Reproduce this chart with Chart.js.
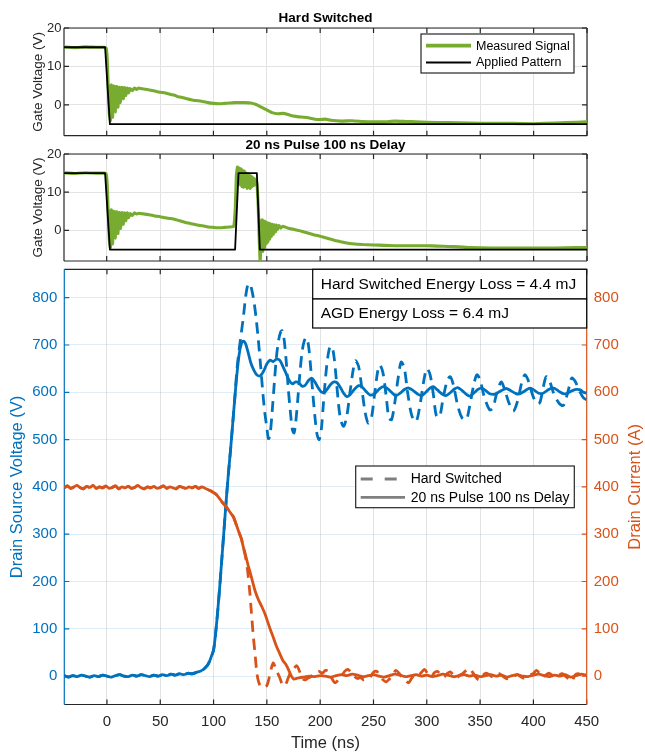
<!DOCTYPE html>
<html>
<head>
<meta charset="utf-8">
<script src="https://cdn.jsdelivr.net/npm/chart.js@4.4.0/dist/chart.umd.min.js"></script>
<style>
  html, body { margin: 0; padding: 0; background: #fff; }
  #fig { position: relative; width: 645px; height: 753px; }
  #fig canvas { position: absolute; left: 0; top: 0; }
</style>
</head>
<body>
<div id="fig">
  <canvas id="gateHard" width="645" height="753"></canvas>
  <canvas id="gateAgd" width="645" height="753"></canvas>
  <canvas id="switching" width="645" height="753"></canvas>
</div>
<script>
// time axis (ns) and tick values
const timeTicks = [0, 50, 100, 150, 200, 250, 300, 350, 400, 450];
const gateTicks = [0, 10, 20];
const vdsTicks = [0, 100, 200, 300, 400, 500, 600, 700, 800];
const idTicks = [0, 100, 200, 300, 400, 500, 600, 700, 800];

// gate drive, hard switched: [time ns, volts]
const hsGateMeasured = [[-40,15.1],[-30,14.9],[-20,15.1],[-10,15],[-2,15],[-0.5,14.8],[0.5,12],[1.5,4],[2.5,-2.5],[3.5,-4],
  [4.3,5.2],[5.5,-3.2],[6.8,4.9],[8,-1.8],[9.3,4.8],[10.5,-0.6],[11.8,4.6],[13,0.6],[14.3,4.6],[15.5,1.6],[16.8,4.5],[18,2.4],
  [19.3,4.4],[20.5,3.1],[22,4.3],[24,3.7],[26,4.4],[28,4.0],[30,4.4],[33,4.2],[36,4.1],[40,3.9],[45,3.6],[50,3.3],[55,3.1],
  [60,2.7],[63,2.6],[66,2.2],[70,2.0],[75,1.6],[80,1.3],[85,1.1],[90,0.9],[95,0.6],[100,0.4],[105,0.3],[110,0.4],[115,0.5],
  [120,0.6],[125,0.6],[130,0.6],[135,0.5],[140,0.1],[145,-0.6],[150,-1.3],[155,-2.0],[160,-2.3],[165,-2.2],[170,-2.5],
  [175,-2.9],[180,-3.1],[185,-3.2],[190,-3.4],[195,-3.7],[200,-3.8],[205,-3.7],[210,-4.0],[220,-4.2],[230,-4.1],[240,-4.3],
  [250,-4.4],[260,-4.4],[270,-4.2],[280,-4.3],[290,-4.4],[300,-4.5],[320,-4.6],[340,-4.7],[360,-4.8],[380,-4.8],[400,-4.9],
  [420,-4.7],[440,-4.5],[450,-4.4]];
const hsGatePattern = [[-40,15],[-1.5,15],[3,-5],[450,-5]];

// gate drive, 20 ns pulse after 100 ns delay
const agdGateMeasured = [[-40,15.1],[-30,14.9],[-20,15.1],[-10,15],[-2,15],[-0.5,14.8],[0.5,12],[1.5,4],[2.5,-2.5],[3.5,-4.5],
  [4.3,5.4],[5.5,-3.5],[6.8,5.0],[8,-2],[9.3,4.9],[10.5,-0.8],[11.8,4.7],[13,0.5],[14.3,4.7],[15.5,1.6],[16.8,4.6],[18,2.5],
  [19.3,4.6],[20.5,3.3],[22,4.4],[24,3.9],[26,4.6],[28,4.3],[30,4.5],[35,4.3],[40,4.1],[45,3.8],[50,3.6],[55,3.3],[60,3.1],
  [65,2.8],[70,2.4],[75,2.0],[80,1.7],[85,1.4],[90,1.2],[95,0.9],[100,0.8],[105,0.7],[110,0.8],[115,0.9],[119,1.0],
  [120.5,6],[121.5,14.5],[122.5,16.6],[123.3,12.5],[124.1,16.3],[124.9,12],[125.7,16.1],[126.5,11.5],[127.3,15.8],[128.1,11.3],
  [128.9,15.5],[129.7,11.5],[130.5,15],[131.3,11],[132.1,14.8],[132.9,11.2],[133.7,14.5],[134.5,11],[135.3,14.2],[136.1,11.5],
  [136.9,13.8],[137.7,11.8],[138.5,13.5],[139.3,12],[140.2,13],[141,11.5],[142,6],[143,-3],[143.8,-8.5],[144.6,-1],[145.4,2.8],
  [146.2,-5.5],[147,2.5],[147.8,-4.5],[148.6,2.3],[149.4,-3.5],[150.2,2.0],[151,-3],[151.8,1.9],[152.6,-2.3],[153.4,1.7],
  [154.2,-1.6],[155,1.6],[156,-1],[157,1.5],[158,-0.4],[159,1.4],[160,0.2],[161.5,1.3],[163,0.6],[165,1.1],[167,0.9],
  [170,0.6],[175,0.3],[180,0.0],[185,-0.4],[190,-0.8],[195,-1.2],[200,-1.5],[205,-1.9],[210,-2.3],[215,-2.7],[220,-3.0],
  [225,-3.3],[230,-3.5],[240,-3.7],[250,-3.8],[260,-3.9],[270,-4.0],[280,-4.0],[290,-4.0],[300,-4.0],[310,-4.1],[320,-4.2],
  [330,-4.3],[340,-4.5],[360,-4.6],[380,-4.6],[400,-4.6],[420,-4.6],[440,-4.5],[450,-4.5]];
const agdGatePattern = [[-40,15],[-1.5,15],[3,-5],[120.3,-5],[123.5,15],[140.7,15],[143.5,-5],[450,-5]];

// drain-source voltage (V)
const vdsOff = [[-40,1],[-36,-2],[-32,1],[-28,-1],[-24,2],[-20,0],[-16,-2],[-12,1],[-8,-1],[-4,2],[0,0],[4,-2],[8,1],
  [12,3],[16,0],[20,-1],[24,2],[28,0],[32,3],[36,1],[40,-1],[44,2],[48,0],[52,3],[56,1],[60,4],[64,2],[68,5],[72,3],
  [76,6],[80,5],[84,8],[88,11],[91,15],[94,22],[96,30],[98,42],[100,55],[102,92],[104,140],[106,195],[108,255],[110,315],
  [112,375],[114,430],[116,480],[118,535],[120,590]];
const vdsAgdTail = [[122,640],[124,680],[126,702],[128,708],[130,703],[132,688],[135,662],[138,646],[141,636],[144,635],
  [147,645],[150,660],[153,668],[156,665],[159,670],[162,668],[165,655],[168,640],[171,625],[174,618],[177,622],[180,620],
  [183,613],[186,615],[189,625],[192,630],[195,622],[198,610],[201,601],[204,600],[207,608],[210,617],[213,622],[216,620],
  [219,610],[222,598],[225,591],[228,595],[232,606],[236,614],[239,612],[243,602],[247,594],[251,597],[255,606],[259,612],
  [263,608],[267,600],[271,593],[275,598],[279,606],[283,609],[287,604],[291,597],[295,593],[299,600],[303,609],[306,612],
  [310,605],[314,597],[318,593],[322,599],[326,607],[329,610],[333,604],[337,596],[340,592],[344,598],[348,606],[351,609],
  [355,604],[359,597],[364,596],[368,601],[372,606],[375,608],[379,603],[383,598],[386,596],[390,600],[394,606],[397,609],
  [401,604],[405,598],[409,598],[413,604],[417,609],[420,608],[424,602],[428,597],[432,598],[436,603],[440,606],[444,605],
  [447,600],[450,598]];
const vdsHardTail = [[122,650],[124,690],[126,725],[128,760],[130,800],[132,826],[134,830],[136,815],[138,790],[140,755],
  [142,710],[144,660],[146,605],[148,558],[150,525],[151.5,502],[153,510],[155,560],[157,620],[159,675],[161,710],[163,728],
  [164.5,730],[166,715],[168,670],[170,610],[172,560],[174,520],[175.5,514],[177,535],[179,585],[181,640],[183,685],[185,708],
  [187,716],[189,700],[191,655],[193,600],[195,550],[197,512],[199,500],[201,520],[203,575],[205,630],[207,672],[209,695],
  [211,697],[213,675],[215,630],[217,580],[219,545],[222,528],[225,550],[228,600],[231,648],[233,667],[236,655],[239,610],
  [242,560],[245,535],[248,545],[251,595],[254,645],[256,658],[259,640],[262,590],[264.5,545],[267,542],[270,578],[273,628],
  [276,664],[279,650],[282,600],[286,550],[290,538],[294,578],[297,622],[300,650],[303,638],[306,598],[309,550],[312,548],
  [315,583],[319,624],[322,633],[325,615],[329,572],[333,546],[337,542],[340,568],[344,615],[347,637],[350,626],[354,590],
  [359,563],[362,567],[365,593],[368,614],[370,622],[373,606],[377,578],[381,560],[385,580],[389,620],[392,637],[395,626],
  [399,596],[403,576],[406,578],[409,608],[412,633],[415,625],[419,598],[424,577],[428,572],[431,590],[434,615],[436,630],
  [439,624],[443,604],[447,588],[450,584]];

// drain current (A)
const idOn = [[-40,398],[-37,402],[-34,397],[-31,400],[-28,403],[-25,398],[-22,396],[-19,401],[-16,399],[-13,403],
  [-10,397],[-7,400],[-4,398],[-1,402],[2,397],[5,399],[8,402],[11,396],[14,400],[17,398],[20,401],[23,397],[26,399],
  [29,403],[32,398],[35,396],[38,400],[41,398],[44,401],[47,397],[50,399],[53,402],[56,397],[59,400],[62,398],[65,396],
  [68,401],[71,399],[74,397],[77,400],[80,398],[83,401],[86,397],[89,400],[92,397],[95,394],[98,391],[100,388],[103,383],
  [106,374],[109,365],[112,358],[115,348],[118.5,337],[121,322],[123.5,306],[126,291],[128,272]];
const idAgdTail = [[130,256],[132,238],[134,222],[136,205],[139,180],[142,162],[145,148],[148,133],[150,120],[153,100],
  [156,82],[159,63],[162,48],[165,33],[168,24],[171,10],[173,0],[175,-6],[178,-5],[181,-3],[185,-2],[190,0],[195,-1],
  [200,1],[205,0],[210,-2],[215,1],[220,3],[225,1],[230,4],[235,2],[240,-1],[245,1],[250,3],[255,0],[260,-2],[265,1],
  [270,4],[275,2],[280,-1],[285,1],[290,3],[295,0],[300,2],[305,-1],[310,1],[315,4],[320,2],[325,-1],[330,1],[335,3],
  [340,0],[345,2],[350,-1],[355,1],[360,3],[365,0],[370,2],[375,-2],[380,1],[385,3],[390,0],[395,-1],[400,2],[405,4],
  [410,1],[415,-1],[420,2],[425,0],[430,3],[435,-2],[440,1],[445,4],[450,2]];
const idHardTail = [[130,252],[132,222],[134,177],[135.5,135],[137,92],[139,45],[140.6,7],[142,-10],[144,-21],[147,-24],
  [150,-20],[152,-5],[154,15],[156,28],[158,18],[160,7],[162,-3],[164,-15],[166,-21],[168,-16],[170,-4],[172,6],[174,12],
  [176,18],[178,22],[180,14],[182,2],[184,-6],[186,-8],[188,-5],[190,-3],[193,2],[196,8],[199,10],[202,6],[205,12],[208,10],
  [211,-5],[214,-14],[217,-8],[220,0],[223,10],[226,14],[229,8],[232,0],[235,-5],[238,-3],[241,-8],[244,-4],[247,-2],
  [250,8],[253,10],[256,2],[259,-8],[262,-12],[265,-6],[268,2],[271,12],[274,6],[277,-3],[280,-9],[283,-14],[286,-4],
  [289,4],[292,2],[295,8],[298,14],[301,4],[304,-3],[307,7],[310,10],[313,3],[316,-2],[319,5],[322,9],[325,2],[328,-4],
  [331,2],[334,6],[337,12],[340,16],[343,8],[346,-2],[349,-8],[352,0],[355,6],[358,4],[361,-1],[364,2],[367,6],[370,2],
  [373,-3],[376,-6],[379,-3],[382,0],[385,3],[388,-1],[391,-4],[394,-2],[397,2],[400,6],[403,12],[406,5],[409,-2],
  [412,3],[415,6],[418,1],[421,-2],[424,2],[427,5],[430,0],[433,-6],[436,-11],[439,2],[442,5],[445,3],[448,8],[450,6]];

const energyNotes = ['Hard Switched Energy Loss = 4.4 mJ', 'AGD Energy Loss = 6.4 mJ'];

const FONT = '"Liberation Sans", Arial, Helvetica, sans-serif';
const AXIS = '#262626';
const BLUE = '#0072BD';
const ORANGE = '#D95319';
const GREEN = '#77AC30';
const GRID = '#e3e3e3';

Chart.defaults.font.family = FONT;
Chart.defaults.color = AXIS;
Chart.defaults.animation = false;

const xy = pairs => pairs.map(p => ({ x: p[0], y: p[1] }));
const fixTicks = list => scale => { scale.ticks = list.map(v => ({ value: v })); };

// axes box, inward tick marks, titles, legends and text boxes
const frame = {
  id: 'frame',
  beforeDatasetsDraw(chart, args, o) {
    const { ctx, chartArea: a, scales } = chart;
    const tl = 5;
    ctx.save();
    ctx.lineWidth = 1.2;
    ctx.strokeStyle = AXIS;
    ctx.beginPath();
    timeTicks.forEach(v => {
      const px = scales.x.getPixelForValue(v);
      ctx.moveTo(px, a.top); ctx.lineTo(px, a.top + tl);
      ctx.moveTo(px, a.bottom); ctx.lineTo(px, a.bottom - tl);
    });
    ctx.moveTo(a.left, a.top); ctx.lineTo(a.right, a.top);
    ctx.moveTo(a.left, a.bottom); ctx.lineTo(a.right, a.bottom);
    ctx.stroke();
    o.sides.forEach(side => {
      const s = scales[side.scale];
      const ex = side.edge === 'left' ? a.left : a.right;
      const dir = side.edge === 'left' ? 1 : -1;
      ctx.strokeStyle = side.color;
      ctx.beginPath();
      s.ticks.forEach(t => {
        const py = s.getPixelForValue(t.value);
        ctx.moveTo(ex, py); ctx.lineTo(ex + dir * tl, py);
      });
      ctx.moveTo(ex, a.top); ctx.lineTo(ex, a.bottom);
      ctx.stroke();
    });
    ctx.restore();
  },
  afterDraw(chart, args, o) {
    const { ctx, chartArea: a } = chart;
    ctx.save();
    if (o.title) {
      ctx.font = 'bold 13.5px ' + FONT;
      ctx.fillStyle = '#000';
      ctx.textAlign = 'center';
      ctx.textBaseline = 'middle';
      ctx.fillText(o.title, (a.left + a.right) / 2, o.titleY);
    }
    if (o.rightLabel) {
      ctx.translate(o.rightLabel.x, (a.top + a.bottom) / 2);
      ctx.rotate(-Math.PI / 2);
      ctx.font = '16.5px ' + FONT;
      ctx.fillStyle = o.rightLabel.color;
      ctx.textAlign = 'center';
      ctx.textBaseline = 'middle';
      ctx.fillText(o.rightLabel.text, 0, 0);
      ctx.setTransform(1, 0, 0, 1, 0, 0);
    }
    if (o.notes) {
      const n = o.notes;
      ctx.font = n.size + 'px ' + FONT;
      ctx.textAlign = 'left';
      ctx.textBaseline = 'middle';
      n.rows.forEach((r, i) => {
        ctx.fillStyle = '#fff';
        ctx.fillRect(n.x, r[0], n.w, r[1]);
        ctx.strokeStyle = '#000';
        ctx.lineWidth = 1.2;
        ctx.strokeRect(n.x, r[0], n.w, r[1]);
        ctx.fillStyle = '#000';
        ctx.fillText(n.texts[i], n.x + 8, r[0] + r[1] / 2 + 0.5);
      });
    }
    if (o.legend) {
      const L = o.legend;
      ctx.fillStyle = '#fff';
      ctx.fillRect(L.x, L.y, L.w, L.h);
      ctx.strokeStyle = AXIS;
      ctx.lineWidth = 1.2;
      ctx.strokeRect(L.x, L.y, L.w, L.h);
      ctx.font = L.size + 'px ' + FONT;
      ctx.textAlign = 'left';
      ctx.textBaseline = 'middle';
      L.items.forEach((it, i) => {
        const y = L.y + L.rows[i];
        ctx.strokeStyle = it.color;
        ctx.lineWidth = it.width;
        ctx.setLineDash(it.dash || []);
        ctx.beginPath();
        ctx.moveTo(L.x + L.line[0], y);
        ctx.lineTo(L.x + L.line[1], y);
        ctx.stroke();
        ctx.setLineDash([]);
        ctx.fillStyle = '#000';
        ctx.fillText(it.text, L.x + L.textX, y + 0.5);
      });
    }
    ctx.restore();
  }
};

function gateChart(id, top, bottom, measured, pattern, frameOpts) {
  return new Chart(document.getElementById(id), {
    type: 'line',
    data: {
      datasets: [
        { label: 'Applied Pattern', data: xy(pattern), borderColor: '#000', borderWidth: 1.8, tension: 0, order: 1 },
        { label: 'Measured Signal', data: xy(measured), borderColor: GREEN, borderWidth: 3.1, tension: 0.1, order: 2 }
      ]
    },
    options: {
      responsive: false,
      layout: { padding: { top: top, left: 0, right: 58, bottom: 0 } },
      elements: { point: { radius: 0 }, line: { borderJoinStyle: 'round' } },
      plugins: { legend: { display: false }, tooltip: { enabled: false }, frame: frameOpts },
      scales: {
        x: {
          type: 'linear', min: -40, max: 450,
          afterBuildTicks: fixTicks(timeTicks),
          afterFit: s => { s.height = 753 - bottom; },
          ticks: { display: false },
          grid: { color: GRID, drawTicks: false },
          border: { display: false }
        },
        y: {
          min: -8, max: 20,
          afterBuildTicks: fixTicks(gateTicks),
          afterFit: s => { s.width = 64; },
          ticks: { font: { size: 13 }, padding: 2.5, color: AXIS },
          grid: { color: GRID, drawTicks: false },
          border: { display: false },
          title: { display: true, text: 'Gate Voltage (V)', font: { size: 13.5 }, color: AXIS, padding: { top: 30 } }
        }
      }
    },
    plugins: [frame]
  });
}

gateChart('gateHard', 28, 135.7, hsGateMeasured, hsGatePattern, {
  title: 'Hard Switched', titleY: 18.5,
  sides: [{ scale: 'y', edge: 'left', color: AXIS }, { scale: 'y', edge: 'right', color: AXIS }],
  legend: {
    x: 421, y: 34, w: 153, h: 39, size: 12.5, rows: [11.7, 28.5], line: [5, 50], textX: 55,
    items: [
      { text: 'Measured Signal', color: GREEN, width: 3.8 },
      { text: 'Applied Pattern', color: '#000', width: 1.8 }
    ]
  }
});

gateChart('gateAgd', 154, 261, agdGateMeasured, agdGatePattern, {
  title: '20 ns Pulse 100 ns Delay', titleY: 145,
  sides: [{ scale: 'y', edge: 'left', color: AXIS }, { scale: 'y', edge: 'right', color: AXIS }]
});

new Chart(document.getElementById('switching'), {
  type: 'line',
  data: {
    datasets: [
      { label: 'Id 20 ns Pulse 100 ns Delay', data: xy(idOn.concat(idAgdTail)), yAxisID: 'yI',
        borderColor: ORANGE, borderWidth: 2.8, order: 1 },
      { label: 'Id Hard Switched', data: xy(idOn.concat(idHardTail)), yAxisID: 'yI',
        borderColor: ORANGE, borderWidth: 2.8, borderDash: [11, 7], order: 2 },
      { label: 'Vds 20 ns Pulse 100 ns Delay', data: xy(vdsOff.concat(vdsAgdTail)), yAxisID: 'yV',
        borderColor: BLUE, borderWidth: 2.8, order: 3 },
      { label: 'Vds Hard Switched', data: xy(vdsOff.concat(vdsHardTail)), yAxisID: 'yV',
        borderColor: BLUE, borderWidth: 2.8, borderDash: [11, 7], order: 4 }
    ]
  },
  options: {
    responsive: false,
    layout: { padding: { top: 269.3, left: 0, right: 0, bottom: 0 } },
    elements: { point: { radius: 0 }, line: { tension: 0.3, borderJoinStyle: 'round' } },
    plugins: {
      legend: { display: false }, tooltip: { enabled: false },
      frame: {
        sides: [{ scale: 'yV', edge: 'left', color: BLUE }, { scale: 'yI', edge: 'right', color: ORANGE }],
        rightLabel: { text: 'Drain Current (A)', color: ORANGE, x: 635 },
        notes: { x: 312.7, w: 274, size: 15.5, rows: [[269.3, 29.7], [299, 29]], texts: energyNotes },
        legend: {
          x: 355.7, y: 466, w: 218.6, h: 41.7, size: 14, rows: [13, 31.3], line: [5, 49.3], textX: 55,
          items: [
            { text: 'Hard Switched', color: '#7f7f7f', width: 2.8, dash: [12, 12] },
            { text: '20 ns Pulse 100 ns Delay', color: '#7f7f7f', width: 2.8 }
          ]
        }
      }
    },
    scales: {
      x: {
        type: 'linear', min: -40, max: 450,
        afterBuildTicks: fixTicks(timeTicks),
        afterFit: s => { s.height = 753 - 704.5; },
        ticks: { font: { size: 15 }, padding: 8.5, color: AXIS, autoSkip: false, maxRotation: 0 },
        grid: { color: GRID, drawTicks: false },
        border: { display: false },
        title: { display: true, text: 'Time (ns)', font: { size: 16.5 }, color: AXIS, padding: { top: 0, bottom: 0 } }
      },
      yV: {
        position: 'left', min: -60, max: 860,
        afterBuildTicks: fixTicks(vdsTicks),
        afterFit: s => { s.width = 64.3; },
        ticks: { font: { size: 15 }, padding: 7, color: BLUE },
        grid: { color: 'rgba(0,114,189,0.13)', drawTicks: false },
        border: { display: false },
        title: { display: true, text: 'Drain Source Voltage (V)', font: { size: 16.5 }, color: BLUE, padding: { top: 7.6 } }
      },
      yI: {
        position: 'right', min: -60, max: 860,
        afterBuildTicks: fixTicks(idTicks),
        afterFit: s => { s.width = 645 - 586.7; },
        ticks: { font: { size: 15 }, padding: 7, color: ORANGE },
        grid: { display: false, drawTicks: false },
        border: { display: false }
      }
    }
  },
  plugins: [frame]
});
</script>
</body>
</html>
